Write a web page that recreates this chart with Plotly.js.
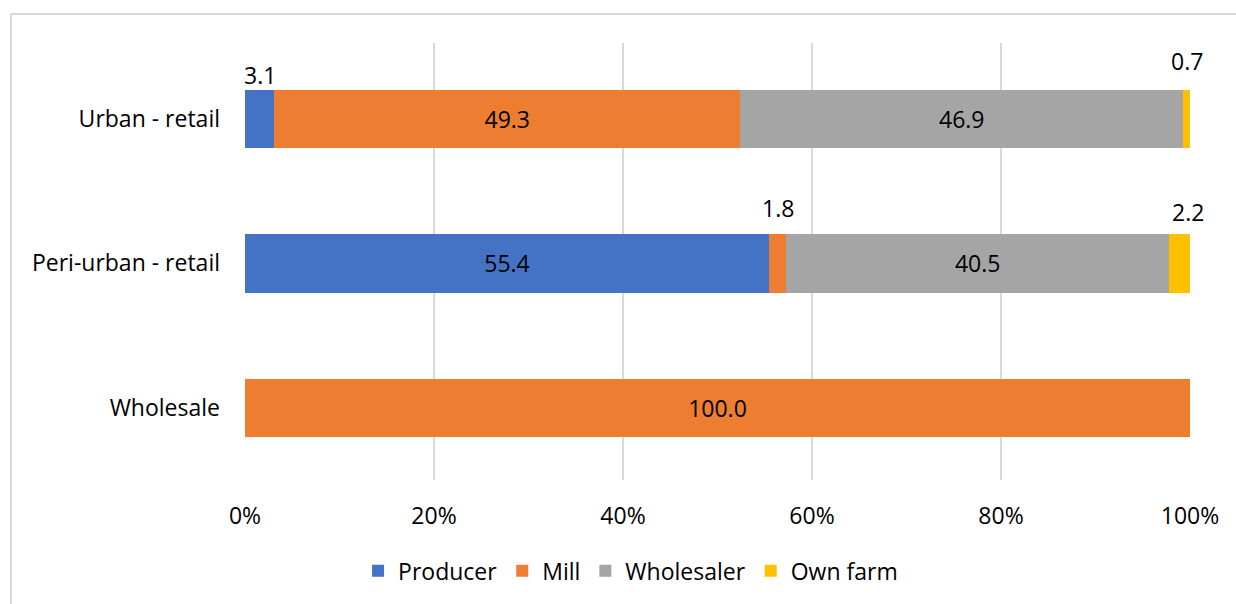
<!DOCTYPE html>
<html>
<head>
<meta charset="utf-8">
<script src="https://cdn.plot.ly/plotly-3.0.1.min.js"></script>
<style>html,body{margin:0;padding:0;background:#fff;overflow:hidden}</style>
</head>
<body>
<div id="chart" style="width:1236px;height:604px"></div>
<script>
// Categories (bottom to top)
const categories = ['Wholesale', 'Peri-urban - retail', 'Urban - retail'];
// Series values (%), same order as categories
const producer   = [0, 55.4, 3.1];
const mill       = [100.0, 1.8, 49.3];
const wholesaler = [0, 40.5, 46.9];
const ownFarm    = [0, 2.2, 0.7];
const seriesNames = ['Producer', 'Mill', 'Wholesaler', 'Own farm'];
const xTickVals = [0, 20, 40, 60, 80, 100];

const series = [producer, mill, wholesaler, ownFarm];
const colors = ['#4472C4', '#ED7D31', '#A5A5A5', '#FFC000'];
const FONT = 'Open Sans, Calibri, sans-serif';
const FS = 23;
const INSIDE_MIN = 5; // segments smaller than this get their label above the bar

const traces = series.map((vals, i) => ({
  type: 'bar',
  orientation: 'h',
  name: seriesNames[i],
  y: categories,
  x: vals,
  marker: {color: colors[i]},
  text: vals.map(v => v >= INSIDE_MIN ? v.toFixed(1) : ''),
  texttemplate: '%{text}',
  textposition: 'inside',
  insidetextanchor: 'middle',
  insidetextfont: {family: FONT, size: FS, color: '#000'},
  hoverinfo: 'name+x',
  cliponaxis: false
}));

// Annotations for small segments (positioned from normalized cumulative data)
const annShift = {'Urban - retail': [[0,44], 0, 0, [0,58]], 'Peri-urban - retail': [0, [0,55], 0, [8,51]], 'Wholesale': [0,0,0,0]};
const annotations = [];
categories.forEach((cat, ci) => {
  const total = series.reduce((s, arr) => s + arr[ci], 0);
  let cum = 0;
  series.forEach((arr, si) => {
    const v = arr[ci];
    const start = cum / total * 100;
    cum += v;
    const end = cum / total * 100;
    if (v > 0 && v < INSIDE_MIN) {
      const sh = annShift[cat][si] || [0, 0];
      annotations.push({
        x: (start + end) / 2, y: cat, xref: 'x', yref: 'y',
        text: v.toFixed(1), showarrow: false,
        xshift: sh[0], yshift: sh[1],
        font: {family: FONT, size: FS, color: '#000'}
      });
    }
  });
});

const layout = {
  width: 1236, height: 604,
  margin: {l: 245, r: 46, t: 43, b: 124},
  barmode: 'stack',
  barnorm: 'percent',
  bargap: 0.595,
  paper_bgcolor: '#fff',
  plot_bgcolor: '#fff',
  font: {family: FONT, size: FS, color: '#000'},
  xaxis: {
    range: [0, 100],
    tickvals: xTickVals,
    ticktext: xTickVals.map(v => v + '%'),
    showgrid: true, gridcolor: '#d9d9d9', gridwidth: 2,
    zeroline: false, showline: false,
    ticks: '', ticklabelstandoff: 20,
    tickfont: {family: FONT, size: FS, color: '#000'},
    fixedrange: true
  },
  yaxis: {
    categoryorder: 'array', categoryarray: categories,
    showgrid: false, zeroline: false, showline: false,
    ticks: '', ticklabelstandoff: 24,
    tickfont: {family: FONT, size: FS, color: '#000'},
    fixedrange: true
  },
  showlegend: true,
  legend: {
    orientation: 'h', x: 0.408, xanchor: 'center', y: -0.208, yanchor: 'middle',
    font: {family: FONT, size: FS, color: '#000'},
    traceorder: 'normal', itemclick: false, itemdoubleclick: false
  },
  annotations: annotations,
  shapes: [{
    type: 'rect', xref: 'paper', yref: 'paper',
    x0: (11 - 245) / 945, x1: 1.2, y0: -0.5, y1: 1 + (43 - 14) / 437,
    line: {color: '#d9d9d9', width: 2}, fillcolor: 'rgba(0,0,0,0)', layer: 'below'
  }]
};

Plotly.newPlot('chart', traces, layout, {displayModeBar: false, staticPlot: true});
</script>
</body>
</html>
